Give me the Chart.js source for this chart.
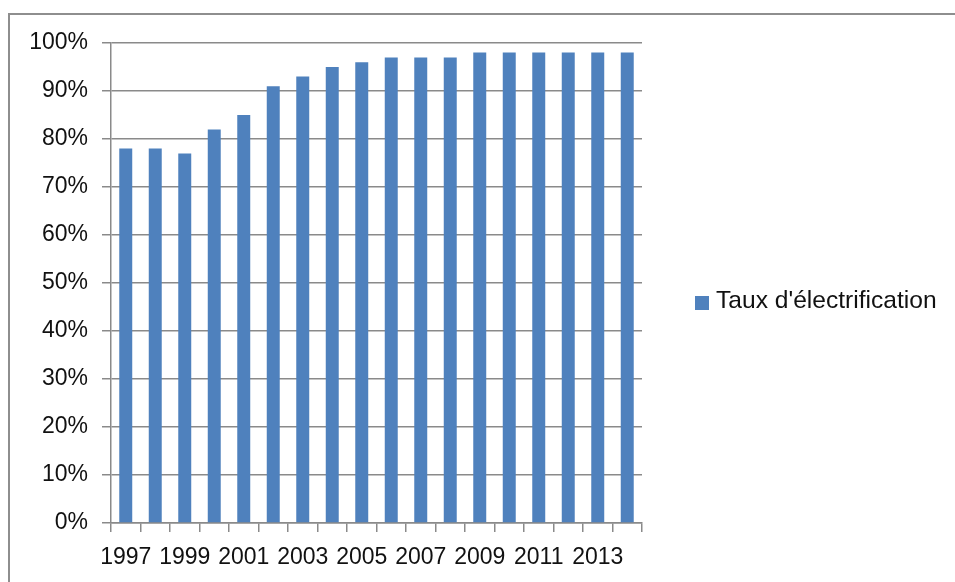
<!DOCTYPE html>
<html>
<head>
<meta charset="utf-8">
<script src="https://cdn.jsdelivr.net/npm/chart.js@4"></script>
<style>
  html, body { margin: 0; padding: 0; background: #fff; }
  #wrap { position: relative; width: 955px; height: 582px; overflow: hidden; }
  #frame { position: absolute; left: 8px; top: 13px; width: 960px; height: 600px;
           border-left: 2px solid #8e8e8e; border-top: 2px solid #8e8e8e; }
  #chart { position: absolute; left: 0; top: 0; }
  #legend { position: absolute; left: 695px; top: 288px; font: 24.6px "Liberation Sans", Arial, sans-serif;
            color: #111; line-height: 24px; white-space: nowrap; }
  #legend .key { position: absolute; left: 0; top: 8px; width: 14px; height: 14px; }
  #legend .txt { position: absolute; left: 21px; top: 0; }
</style>
</head>
<body>
<div id="wrap">
  <div id="frame"></div>
  <canvas id="chart" width="955" height="582"></canvas>
  <div id="legend"></div>
</div>
<script>
const years = ["1997","1998","1999","2000","2001","2002","2003","2004","2005","2006","2007","2008","2009","2010","2011","2012","2013","2014"];
const taux = [78, 78, 77, 82, 85, 91, 93, 95, 96, 97, 97, 97, 98, 98, 98, 98, 98, 98];
const seriesName = "Taux d'électrification";
const barColor = "#4f81bd";
const lineColor = "#8a8a8a";
const font = { family: "'Liberation Sans', Arial, sans-serif", size: 23 };

const chart = new Chart(document.getElementById("chart"), {
  type: "bar",
  data: {
    labels: years,
    datasets: [{ label: seriesName, data: taux, backgroundColor: barColor,
                 barPercentage: 0.44, categoryPercentage: 1 }]
  },
  options: {
    responsive: false,
    animation: false,
    layout: { padding: { top: 43, left: 10, right: 313, bottom: 0 } },
    plugins: { legend: { display: false }, tooltip: { enabled: false } },
    scales: {
      x: {
        grid: { offset: true, drawOnChartArea: false, drawTicks: true, tickLength: 9, color: lineColor, lineWidth: 1.5 },
        border: { color: lineColor, width: 1.5 },
        ticks: { autoSkip: false, maxRotation: 0, color: "#111", font, padding: 12,
                 callback: (v, i) => (i % 2 === 0 ? years[i] : "") },
        afterFit: s => { s.height = 582 - 523; }
      },
      y: {
        min: 0, max: 100,
        grid: { tickLength: 9, color: lineColor, lineWidth: 1.5 },
        border: { color: lineColor, width: 1.5 },
        ticks: { stepSize: 10, color: "#111", font, padding: 14, callback: v => v + "%" },
        afterFit: s => { s.width = 111 - 10; }
      }
    }
  }
});

const leg = document.getElementById("legend");
leg.innerHTML = `<span class="key" style="background:${chart.data.datasets[0].backgroundColor}"></span><span class="txt">${chart.data.datasets[0].label}</span>`;
</script>
</body>
</html>
